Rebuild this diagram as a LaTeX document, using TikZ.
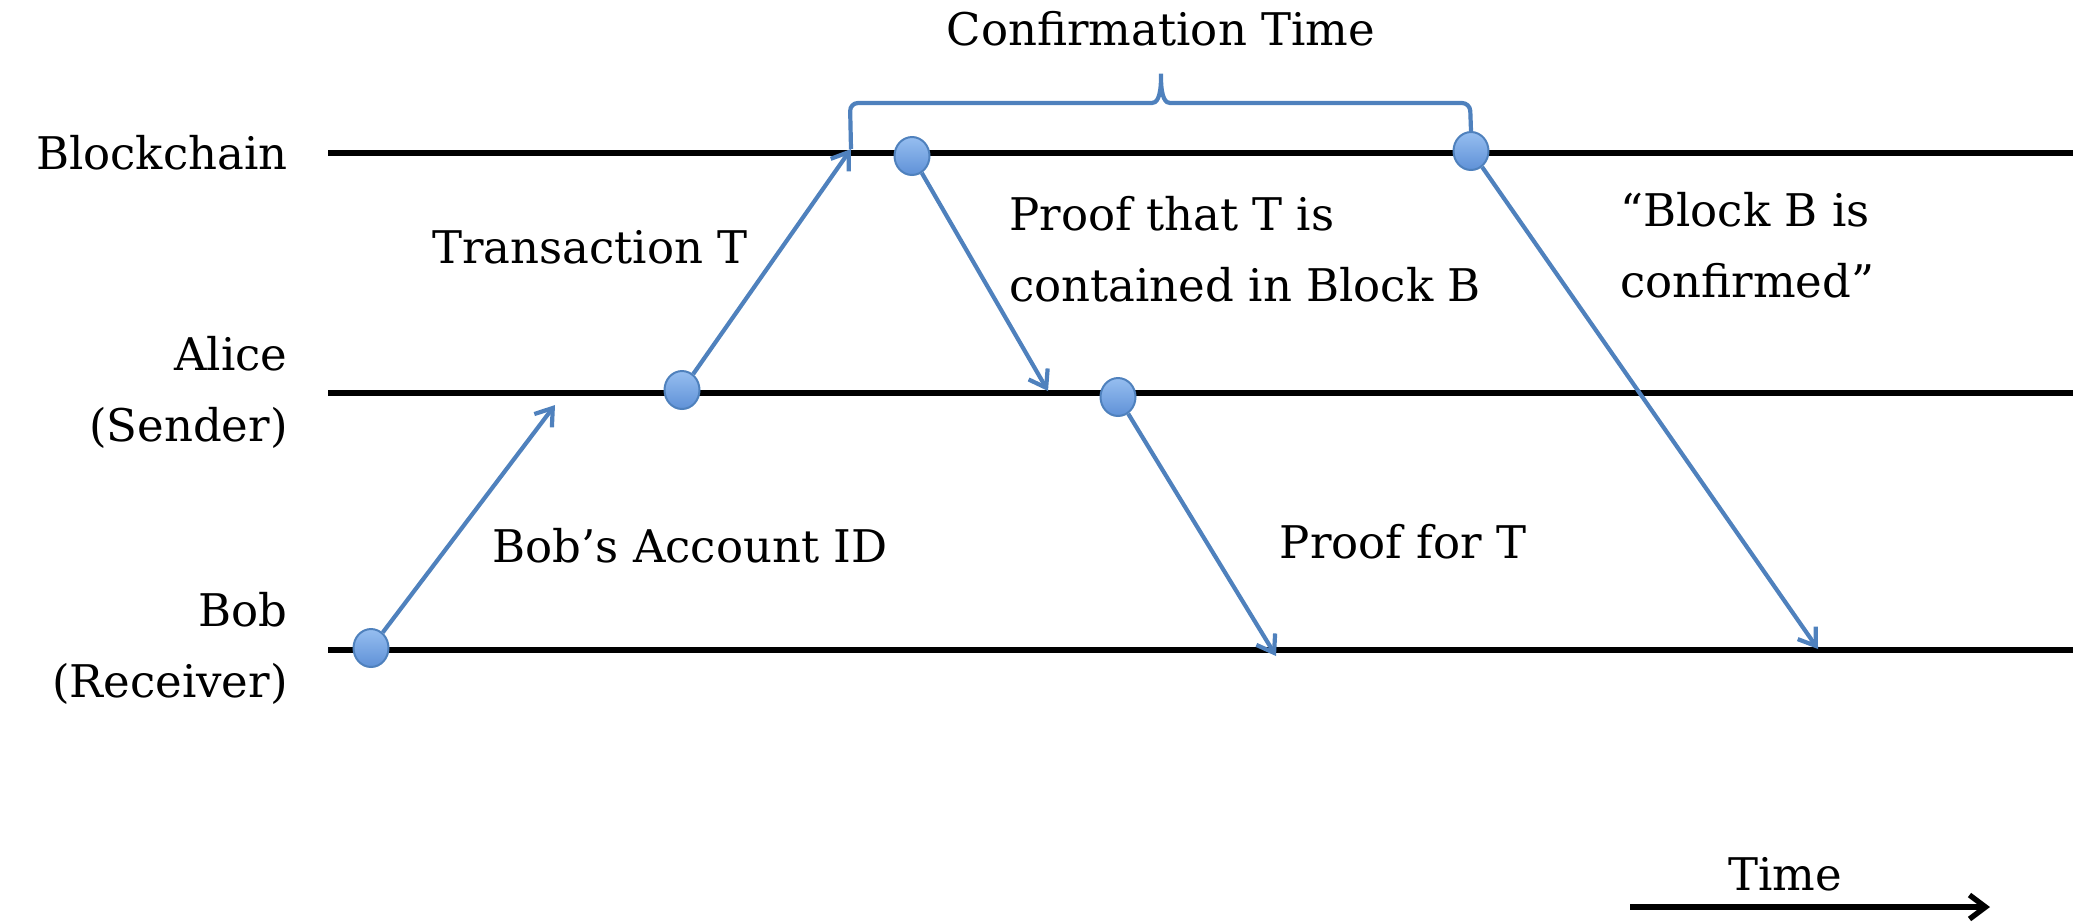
\documentclass[tikz,border=0pt]{standalone}
\usepackage{fontspec}
\setmainfont{DejaVu Serif}
\usetikzlibrary{arrows.meta,shapes.geometric}

\definecolor{msgblue}{RGB}{79,129,189}
\definecolor{dottop}{RGB}{150,190,240}
\definecolor{dotbot}{RGB}{95,145,215}

\tikzset{
  lane/.style={line width=2.7pt},
  msg/.style={msgblue,line width=2.1pt,-{Straight Barb[length=8pt,width=11pt]}},
  event/.style={ellipse,draw=msgblue,line width=1pt,top color=dottop,bottom color=dotbot,
    minimum width=17.5pt,minimum height=19pt,inner sep=0pt},
  lbl/.style={font=\fontsize{22.5}{35.5}\selectfont,inner sep=0pt},
}

\begin{document}
\begin{tikzpicture}[x=0.5pt,y=-0.5pt]
  \useasboundingbox (0,0) rectangle (2073,923);
  % parties
  \node[lbl,anchor=east] (bchain) at (288,153) {Blockchain};
  \node[lbl,anchor=east,align=right] (alice) at (288,392) {Alice\\(Sender)};
  \node[lbl,anchor=east,align=right] (bob) at (288,648) {Bob\\(Receiver)};
  \coordinate (bcL) at (328,153);  \coordinate (bcR) at (2073,153);
  \coordinate (alL) at (328,393);  \coordinate (alR) at (2073,393);
  \coordinate (boL) at (328,650);  \coordinate (boR) at (2073,650);
  \draw[lane] (bcL) -- (bcR);
  \draw[lane] (alL) -- (alR);
  \draw[lane] (boL) -- (boR);

  % events
  \node[event] (bob1) at (371,648) {};
  \node[event] (alice1) at (682,390) {};
  \node[event] (chain1) at (912,156) {};
  \node[event] (alice2) at (1118,397) {};
  \node[event] (chain2) at (1471,151) {};

  % messages
  \coordinate (idtip) at (555,405);
  \coordinate (txtip) at (851,149);
  \coordinate (prtip) at (1048,391);
  \coordinate (pftip) at (1276,656);
  \coordinate (cftip) at (1818,649);
  \draw[msg] (bob1) -- (idtip);
  \draw[msg] (alice1) -- (txtip);
  \draw[msg] (chain1) -- (prtip);
  \draw[msg] (alice2) -- (pftip);
  \draw[msg] (chain2) -- (cftip);

  \node[lbl] (idlbl) at (690,546) {Bob's Account ID};
  \node[lbl] (txlbl) at (590,247) {Transaction T};
  \node[lbl,anchor=west,align=left] (prlbl) at (1009,249) {Proof that T is\\contained in Block B};
  \node[lbl] (pflbl) at (1403,542) {Proof for T};
  \node[lbl,anchor=west,align=left] (cflbl) at (1620,245) {``Block B is\\confirmed''};

  % confirmation brace
  \coordinate (brtip) at (1161,69);
  \draw[msgblue,line width=2.1pt,rounded corners=4pt]
    (txtip) -- (850,103) -- (1144,103)
    .. controls (1156,103) and (1161,99) .. (brtip)
    .. controls (1161,99) and (1166,103) .. (1178,103)
    -- (1470,103) -- (chain2.north);
  \node[lbl] (conf) at (1161,29) {Confirmation Time};

  % time axis
  \coordinate (tstart) at (1630,907);
  \coordinate (tend) at (1990,907);
  \draw[line width=2.7pt,-{Straight Barb[length=8pt,width=12pt]}] (tstart) -- (tend);
  \node[lbl] (time) at (1785,874) {Time};
\end{tikzpicture}
\end{document}
